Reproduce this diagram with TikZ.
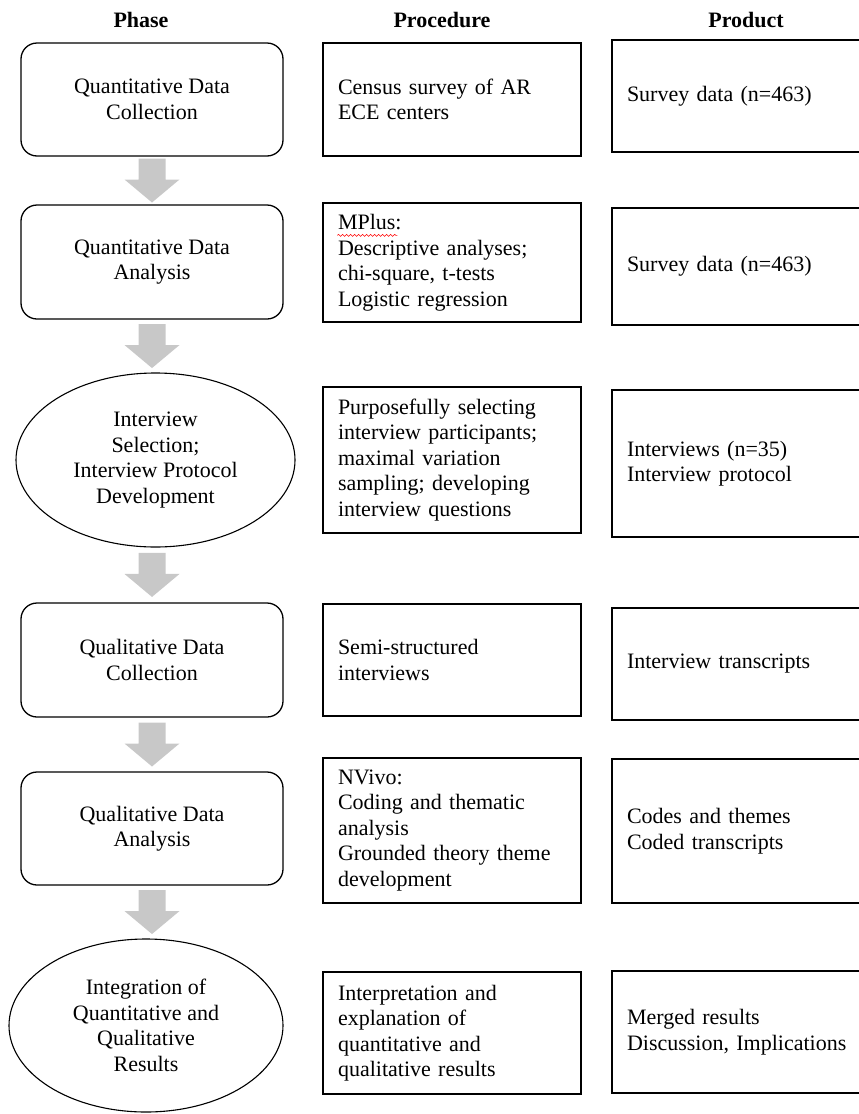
\documentclass[tikz,border=0pt]{standalone}
\usepackage{fontspec}
\setmainfont{Liberation Serif}
\usetikzlibrary{shapes.geometric,calc,decorations.pathmorphing}
\definecolor{arrowgray}{RGB}{200,200,200}
\begin{document}
\begin{tikzpicture}[x=1pt,y=-1pt,
  txt/.style={font=\fontsize{22}{25.5}\selectfont},
  header/.style={font=\fontsize{22}{25.5}\selectfont\bfseries, anchor=base},
  phasebox/.style={txt, draw, line width=1.3pt, rounded corners=16pt,
    minimum width=262pt, align=center, inner sep=0pt},
  phaseoval/.style={txt, draw, line width=1.1pt, ellipse, align=center, inner sep=0pt},
  procbox/.style={txt, draw, line width=1.3pt, text width=228pt, inner xsep=15pt,
    inner ysep=0pt, align=left},
  prodbox/.style={txt, draw, line width=1.3pt, text width=238pt, inner xsep=15pt,
    inner ysep=0pt, align=left},
]
\useasboundingbox (0,0) rectangle (859,1114);
\clip (0,0) rectangle (859,1114);

% column headings
\node[header] (hphase) at (141,27) {Phase};
\node[header] (hproc) at (442,27) {Procedure};
\node[header] (hprod) at (746,27) {Product};

% phase column
\node[phasebox, minimum height=113pt] (p1) at (152,99.5) {Quantitative Data\\Collection};
\node[phasebox, minimum height=114pt] (p2) at (152,262) {Quantitative Data\\Analysis};
\node[phaseoval, minimum width=279pt, minimum height=174pt] (p3) at (155.5,460)
  {Interview\\Selection;\\Interview Protocol\\Development};
\node[phasebox, minimum height=114pt] (p4) at (152,660) {Qualitative Data\\Collection};
\node[phasebox, minimum height=113pt] (p5) at (152,828.5) {Qualitative Data\\Analysis};
\node[phaseoval, minimum width=274pt, minimum height=173pt] (p6) at (146,1025.5)
  {Integration of\\Quantitative and\\Qualitative\\Results};

% procedure column
\node[procbox, minimum height=113pt] (r1) at (452,99.5) {Census survey of AR\\ECE centers};
\node[procbox, minimum height=119pt] (r2) at (452,262.5)
  {MPlus:\\Descriptive analyses;\\chi-square, t-tests\\Logistic regression};
\node[procbox, minimum height=146pt] (r3) at (452,460)
  {Purposefully selecting\\interview participants;\\maximal variation\\sampling; developing\\interview questions};
\node[procbox, minimum height=112pt] (r4) at (452,660) {Semi-structured\\interviews};
\node[procbox, minimum height=145pt] (r5) at (452,830.5)
  {NVivo:\\Coding and thematic\\analysis\\Grounded theory theme\\development};
\node[procbox, minimum height=122pt] (r6) at (452,1033)
  {Interpretation and\\explanation of\\quantitative and\\qualitative results};

% product column (runs past the right edge)
\node[prodbox, minimum height=112pt] (q1) at (746,96) {Survey data (n=463)};
\node[prodbox, minimum height=117pt] (q2) at (746,266.5) {Survey data (n=463)};
\node[prodbox, minimum height=147pt] (q3) at (746,463.5) {Interviews (n=35)\\Interview protocol};
\node[prodbox, minimum height=112pt] (q4) at (746,664) {Interview transcripts};
\node[prodbox, minimum height=144pt] (q5) at (746,831) {Codes and themes\\Coded transcripts};
\node[prodbox, minimum height=122pt] (q6) at (746,1032) {Merged results\\Discussion, Implications};

% spell-check squiggle under MPlus
\coordinate (sqa) at ($(r2.north west)+(15,33)$);
\coordinate (sqb) at ($(sqa)+(60,0)$);
\draw[red, line width=0.6pt, decorate, decoration={snake, segment length=4pt, amplitude=1pt}] (sqa) -- (sqb);

% block arrows between phases
\newcommand{\flowarrow}[2]{%
  \path ($(#1.south)!0.5!(#2.north)$) coordinate (mid);
  \path (p1.center |- mid) coordinate (m);
  \fill[arrowgray] ($(m)+(-13.5,-22)$) -- ($(m)+(13.5,-22)$) -- ($(m)+(13.5,-1)$)
    -- ($(m)+(27.5,-1)$) -- ($(m)+(0,22)$) -- ($(m)+(-27.5,-1)$) -- ($(m)+(-13.5,-1)$) -- cycle;
}
\flowarrow{p1}{p2}
\flowarrow{p2}{p3}
\flowarrow{p3}{p4}
\flowarrow{p4}{p5}
\flowarrow{p5}{p6}
\end{tikzpicture}
\end{document}
